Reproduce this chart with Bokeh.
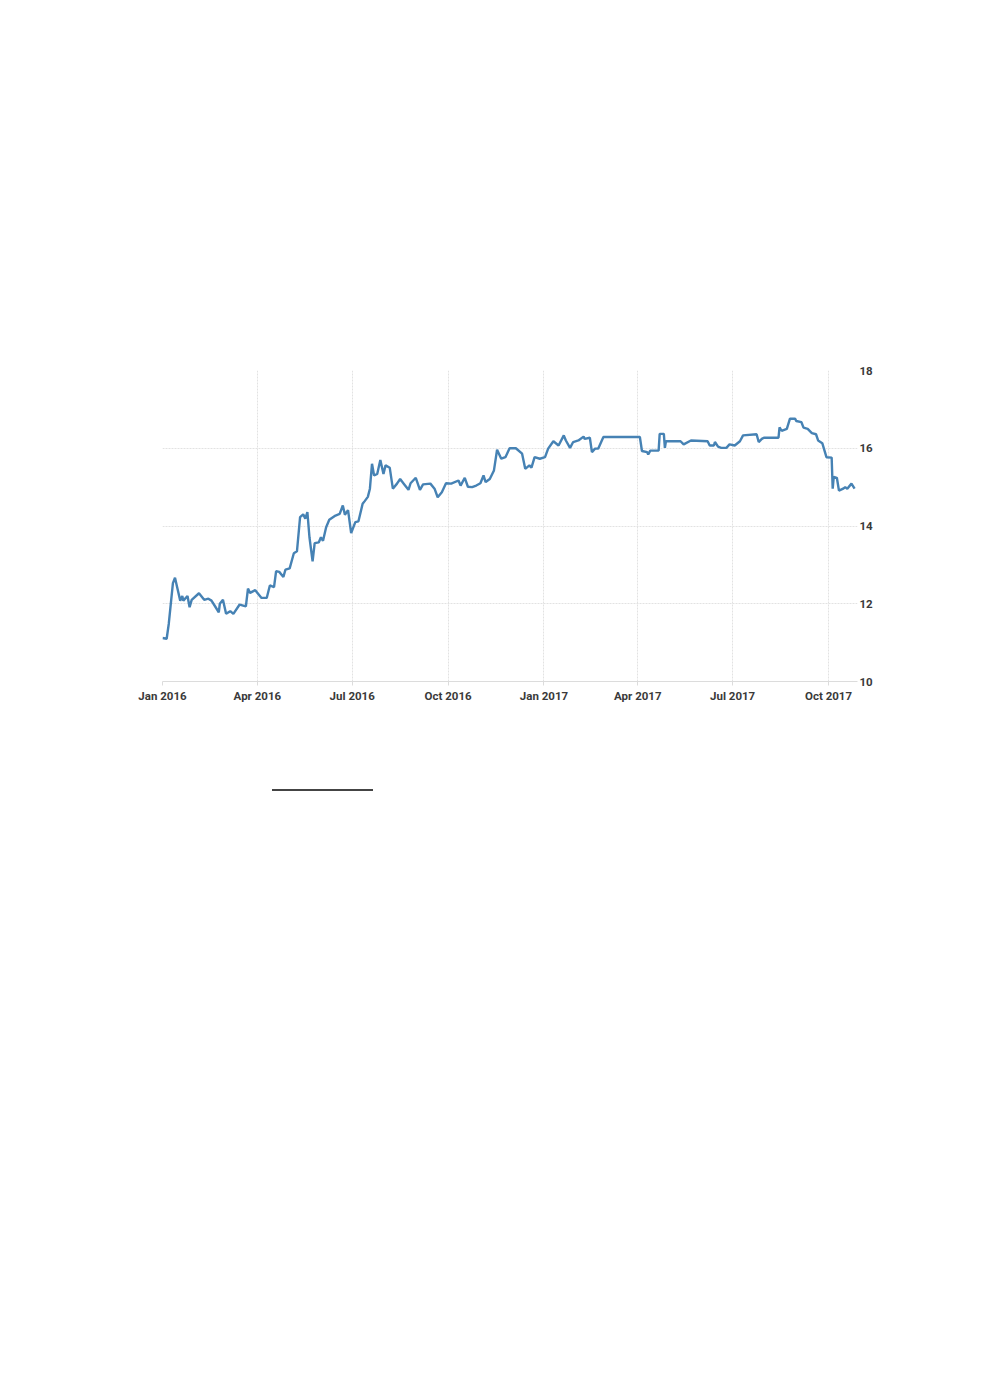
import pandas as pd
from bokeh.plotting import figure
from bokeh.models import (Range1d, FixedTicker, DatetimeTickFormatter, ColumnDataSource, Div)
from bokeh.layouts import column
from bokeh.embed import file_html
from bokeh.resources import INLINE

# ---- data ----
dates = [
    "2016-01-01", "2016-01-05", "2016-01-07", "2016-01-11", "2016-01-13", "2016-01-15",
    "2016-01-18", "2016-01-20", "2016-01-21", "2016-01-25", "2016-01-27", "2016-01-29",
    "2016-02-05", "2016-02-10", "2016-02-14", "2016-02-17", "2016-02-21", "2016-02-24",
    "2016-02-25", "2016-02-28", "2016-03-02", "2016-03-06", "2016-03-09", "2016-03-15",
    "2016-03-21", "2016-03-23", "2016-03-25", "2016-03-30", "2016-04-05", "2016-04-10",
    "2016-04-13", "2016-04-17", "2016-04-19", "2016-04-22", "2016-04-26", "2016-04-28",
    "2016-05-02", "2016-05-06", "2016-05-09", "2016-05-12", "2016-05-15", "2016-05-17",
    "2016-05-19", "2016-05-21", "2016-05-24", "2016-05-26", "2016-05-30", "2016-06-01",
    "2016-06-03", "2016-06-06", "2016-06-09", "2016-06-15", "2016-06-19", "2016-06-22",
    "2016-06-24", "2016-06-27", "2016-06-30", "2016-07-04", "2016-07-07", "2016-07-11",
    "2016-07-13", "2016-07-16", "2016-07-18", "2016-07-20", "2016-07-22", "2016-07-25",
    "2016-07-28", "2016-07-31", "2016-08-02", "2016-08-06", "2016-08-09", "2016-08-13",
    "2016-08-16", "2016-08-20", "2016-08-24", "2016-08-26", "2016-08-31", "2016-09-04",
    "2016-09-07", "2016-09-14", "2016-09-18", "2016-09-21", "2016-09-25", "2016-09-29",
    "2016-10-04", "2016-10-11", "2016-10-13", "2016-10-17", "2016-10-20", "2016-10-24",
    "2016-10-28", "2016-11-01", "2016-11-04", "2016-11-06", "2016-11-10", "2016-11-14",
    "2016-11-17", "2016-11-21", "2016-11-25", "2016-11-29", "2016-12-05", "2016-12-11",
    "2016-12-14", "2016-12-18", "2016-12-20", "2016-12-23", "2016-12-28", "2017-01-02",
    "2017-01-05", "2017-01-10", "2017-01-15", "2017-01-20", "2017-01-22", "2017-01-26",
    "2017-01-29", "2017-02-03", "2017-02-08", "2017-02-09", "2017-02-14", "2017-02-16",
    "2017-02-19", "2017-02-22", "2017-02-27", "2017-04-03", "2017-04-05", "2017-04-10",
    "2017-04-11", "2017-04-13", "2017-04-21", "2017-04-22", "2017-04-26", "2017-04-27",
    "2017-04-28", "2017-05-12", "2017-05-15", "2017-05-22", "2017-06-07", "2017-06-09",
    "2017-06-13", "2017-06-14", "2017-06-17", "2017-06-20", "2017-06-25", "2017-06-28",
    "2017-07-03", "2017-07-08", "2017-07-11", "2017-07-24", "2017-07-26", "2017-07-29",
    "2017-07-31", "2017-08-14", "2017-08-15", "2017-08-17", "2017-08-22", "2017-08-25",
    "2017-08-30", "2017-08-31", "2017-09-05", "2017-09-07", "2017-09-11", "2017-09-15",
    "2017-09-19", "2017-09-21", "2017-09-25", "2017-09-29", "2017-10-04", "2017-10-05",
    "2017-10-06", "2017-10-09", "2017-10-11", "2017-10-15", "2017-10-17", "2017-10-19",
    "2017-10-23", "2017-10-26",
]
values = [
    11.12, 11.10, 11.48, 12.53, 12.67, 12.43,
    12.08, 12.20, 12.08, 12.20, 11.91, 12.10,
    12.27, 12.10, 12.13, 12.08, 11.91, 11.78,
    12.00, 12.10, 11.74, 11.81, 11.74, 11.98,
    11.93, 12.39, 12.28, 12.35, 12.15, 12.15,
    12.47, 12.43, 12.84, 12.82, 12.69, 12.88,
    12.91, 13.30, 13.35, 14.23, 14.30, 14.19,
    14.36, 13.71, 13.09, 13.56, 13.58, 13.71,
    13.62, 13.97, 14.16, 14.27, 14.31, 14.53,
    14.29, 14.41, 13.82, 14.10, 14.12, 14.57,
    14.64, 14.75, 14.96, 15.60, 15.30, 15.34,
    15.70, 15.34, 15.56, 15.50, 14.96, 15.09,
    15.21, 15.07, 14.93, 15.10, 15.24, 14.93,
    15.07, 15.09, 14.96, 14.74, 14.87, 15.10,
    15.09, 15.17, 15.04, 15.24, 15.01, 15.00,
    15.04, 15.10, 15.30, 15.13, 15.21, 15.43,
    15.96, 15.73, 15.77, 16.00, 16.00, 15.86,
    15.47, 15.56, 15.50, 15.77, 15.73, 15.77,
    15.99, 16.18, 16.07, 16.33, 16.20, 16.01,
    16.16, 16.20, 16.30, 16.24, 16.27, 15.90,
    15.99, 15.99, 16.29, 16.29, 15.93, 15.90,
    15.84, 15.94, 15.94, 16.37, 16.37, 16.01,
    16.18, 16.18, 16.10, 16.20, 16.18, 16.07,
    16.07, 16.16, 16.04, 16.01, 16.01, 16.10,
    16.07, 16.18, 16.33, 16.36, 16.16, 16.24,
    16.27, 16.27, 16.54, 16.45, 16.50, 16.76,
    16.76, 16.70, 16.67, 16.53, 16.50, 16.39,
    16.36, 16.20, 16.13, 15.77, 15.76, 14.96,
    15.26, 15.24, 14.91, 14.96, 15.00, 14.96,
    15.09, 14.96,
]
x_ticks = ["2016-01-01", "2016-04-01", "2016-07-01", "2016-10-01",
           "2017-01-01", "2017-04-01", "2017-07-01", "2017-10-01"]
y_ticks = [10, 12, 14, 16, 18]

src = ColumnDataSource(data=dict(x=pd.to_datetime(dates), y=values))

p = figure(
    x_axis_type="datetime",
    y_axis_location="right",
    frame_width=695, frame_height=311,
    min_border_left=162, min_border_top=370,
    min_border_right=40, min_border_bottom=40,
    x_range=Range1d(pd.Timestamp("2016-01-01"), pd.Timestamp("2017-10-28 19:00")),
    y_range=Range1d(10, 18),
    output_backend="svg", toolbar_location=None,
)
p.outline_line_color = None
p.background_fill_color = "white"
p.border_fill_color = "white"

p.line("x", "y", source=src, line_color="#4682b4", line_width=2.4)

tick_ms = [pd.Timestamp(t).value // 10**6 for t in x_ticks]
p.xaxis.ticker = FixedTicker(ticks=tick_ms)
fmt = "%b %Y"
p.xaxis.formatter = DatetimeTickFormatter(
    milliseconds=fmt, seconds=fmt, minsec=fmt, minutes=fmt, hourmin=fmt,
    hours=fmt, days=fmt, months=fmt, years=fmt)
p.yaxis.ticker = FixedTicker(ticks=y_ticks)

for ax in (p.xaxis, p.yaxis):
    ax.major_label_text_font = "Roboto"
    ax.major_label_text_font_size = "11.5px"
    ax.major_label_text_font_style = "bold"
    ax.major_label_text_color = "#3a3a3a"
    ax.minor_tick_line_color = None

p.xaxis.axis_line_color = "#dcdcdc"
p.xaxis.major_tick_line_color = "#dcdcdc"
p.xaxis.major_tick_out = 4
p.xaxis.major_tick_in = 0
p.xaxis.major_label_standoff = 3

p.yaxis.axis_line_color = None
p.yaxis.major_tick_line_color = None
p.yaxis.major_tick_out = 0
p.yaxis.major_tick_in = 0
p.yaxis.major_label_standoff = 2

p.xgrid.grid_line_color = "#e2e2e2"
p.ygrid.grid_line_color = "#e2e2e2"
p.xgrid.grid_line_dash = "2 1"
p.ygrid.grid_line_dash = "2 1"

rule = Div(
    text='<div style="margin-left:267px;margin-top:63px;width:101px;height:2px;background:#444444"></div>',
    width=600, height=80,
)

layout = column(p, rule, spacing=0)

open("out.html", "w").write(file_html(layout, INLINE))
